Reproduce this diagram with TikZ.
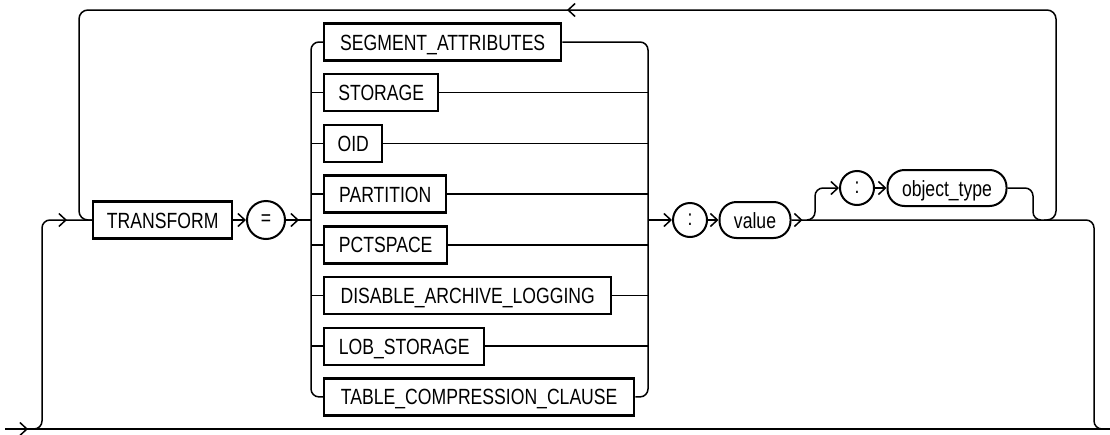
\documentclass[tikz,border=0pt]{standalone}
\usepackage{fontspec}
\setmainfont{Liberation Sans}[FakeStretch=0.8]
\usetikzlibrary{%
    arrows.meta,
    decorations.markings,
    positioning
}
\tikzset{rail/.style = {line width=1.5pt}}
\tikzset{headarrow/.style = {-{Straight Barb[length=7pt,width=13pt]}}}
\tikzset{railarrow/.style = {postaction={decorate,decoration={markings,
    mark=at position #1 with {\arrow{Straight Barb[length=7pt,width=13pt]}}}}}}
\tikzset{keyword/.style = {draw,rectangle,line width=2.4pt,inner xsep=12pt,inner ysep=0pt,
    minimum height=37pt,text height=16pt,text depth=0pt,font=\fontsize{22}{25}\selectfont}}
\tikzset{opsym/.style = {draw,circle,line width=2pt,inner sep=0pt,font=\fontsize{22}{25}\selectfont}}
\tikzset{varname/.style = {draw,rectangle,rounded corners=17pt,line width=2pt,inner xsep=13pt,
    inner ysep=0pt,minimum height=36pt,text height=16pt,text depth=0pt,font=\fontsize{22}{25}\selectfont}}

\begin{document}
\begin{tikzpicture}[x=1pt,y=-1pt]
    \useasboundingbox (0,0) rectangle (1110,434);
    \coordinate (In) at (5,429);
    \coordinate (Out) at (1110,429);
    \coordinate (Up) at (34,429);
    \node (T) [keyword,anchor=west,minimum width=139pt] at (92,220) {TRANSFORM};
    \node (Eq) [opsym,minimum size=38pt] at (266,220) {=};
    \coordinate (L) at (311,220);
    \coordinate (R) at (648,220);

    % choice column
    \node (Sg) [keyword,anchor=west,minimum width=237pt] at (323,42) {SEGMENT\_ATTRIBUTES};
    \node (St) [keyword,below=11.3pt of Sg.south west,anchor=north west,minimum width=114pt] {STORAGE};
    \node (Oi) [keyword,below=11.3pt of St.south west,anchor=north west,minimum width=58pt] {OID};
    \node (Pa) [keyword,below=11.3pt of Oi.south west,anchor=north west,minimum width=122pt] {PARTITION};
    \node (Pc) [keyword,below=11.3pt of Pa.south west,anchor=north west,minimum width=123pt] {PCTSPACE};
    \node (Da) [keyword,below=11.3pt of Pc.south west,anchor=north west,minimum width=287pt] {DISABLE\_ARCHIVE\_LOGGING};
    \node (Lo) [keyword,below=11.3pt of Da.south west,anchor=north west,minimum width=160pt] {LOB\_STORAGE};
    \node (Tc) [keyword,below=11.3pt of Lo.south west,anchor=north west,minimum width=310pt] {TABLE\_COMPRESSION\_CLAUSE};

    \node (Co) [opsym,minimum size=34pt] at (690,220) {:};
    \node (V) [varname,minimum width=71pt] at (755,220) {value};
    \coordinate (Bu) at (807,220);
    \node (Ct) [opsym,minimum size=34pt] at (857,188) {:};
    \node (Ob) [varname,minimum width=119pt] at (947,188) {object\_type};
    \coordinate (Bd) at (1041,220);
    \coordinate (Lb) at (1044,220);

    % bypass and entry
    \draw[rail,railarrow=23pt] (In) -- (Out);
    \draw[rail,rounded corners=8pt,railarrow=-25pt] (Up) -| (42,220) -- (T.west);
    \draw[rail,headarrow] (T) -- (Eq);
    \draw[rail,railarrow=13pt] (Eq) -- (L);

    % branches of the choice
    \draw[rail,rounded corners=8pt] (Sg.west) -| (L) |- (Tc.west);
    \draw[rail,rounded corners=8pt] (Sg.east) -| (R) |- (Tc.east);
    \draw[rail] (L |- St) -- (St.west);
    \draw[rail] (L |- Oi) -- (Oi.west);
    \draw[rail] (L |- Pa) -- (Pa.west);
    \draw[rail] (L |- Pc) -- (Pc.west);
    \draw[rail] (L |- Da) -- (Da.west);
    \draw[rail] (L |- Lo) -- (Lo.west);
    \draw[rail] (St.east) -- (R |- St);
    \draw[rail] (Oi.east) -- (R |- Oi);
    \draw[rail] (Pa.east) -- (R |- Pa);
    \draw[rail] (Pc.east) -- (R |- Pc);
    \draw[rail] (Da.east) -- (R |- Da);
    \draw[rail] (Lo.east) -- (R |- Lo);

    \draw[rail,headarrow] (R) -- (Co);
    \draw[rail,headarrow] (Co) -- (V);
    \draw[rail,rounded corners=8pt,railarrow=11pt] (V.east) -| (1094,429) -- (Out);

    % optional object type
    \draw[rail,rounded corners=8pt,headarrow] (Bu) -| (815,188) -- (Ct);
    \draw[rail,headarrow] (Ct) -- (Ob);
    \draw[rail,rounded corners=8pt] (Ob.east) -| (1033,220) -- (Bd);

    % repeat loop
    \draw[rail,rounded corners=9pt,railarrow=0.5] (Lb) -| (1056,10) -| (79,220) -- (T.west);
\end{tikzpicture}
\end{document}
